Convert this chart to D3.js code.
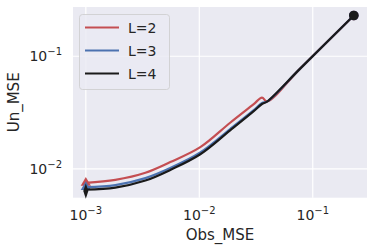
<!DOCTYPE html>
<html><head><meta charset="utf-8">
<script src="https://cdn.jsdelivr.net/npm/d3@7"></script>
<style>body{margin:0;background:#fff}svg{display:block}text{font-family:"DejaVu Sans",sans-serif;fill:#262626}</style>
</head><body><svg id="c" width="374" height="249"></svg>
<script>
const obs   = [0.001, 0.00182, 0.00335, 0.00555, 0.0102, 0.0187, 0.0300, 0.0357, 0.0395, 0.077, 0.23];
const unL2  = [0.00752, 0.00800, 0.00925, 0.0115, 0.0156, 0.0257, 0.0374, 0.0430, 0.0397, 0.0773, 0.23];
const unL3  = [0.0069, 0.0072, 0.0083, 0.0102, 0.0140, 0.0226, 0.0331, 0.0385, 0.0396, 0.0773, 0.23];
const unL4  = [0.00656, 0.00684, 0.00789, 0.0098, 0.0135, 0.0220, 0.0324, 0.0377, 0.0395, 0.0773, 0.23];
const labels = ["L=2", "L=3", "L=4"];
const colors = ["#c44e52", "#4c72b0", "#1a1a1a"];
const xTicks = [1e-3, 1e-2, 1e-1];
const yTicks = [1e-2, 1e-1];

const svg = d3.select("#c");
const L = 73, R = 367, T = 7, B = 197.7;
const x = d3.scaleLog().domain([Math.pow(10, -3.113), Math.pow(10, -0.522)]).range([L, R]);
const y = d3.scaleLog().domain([Math.pow(10, -2.255), Math.pow(10, -0.563)]).range([B, T]);

svg.append("rect").attr("x", L).attr("y", T).attr("width", R - L).attr("height", B - T).attr("fill", "#eaeaf2");
const g = svg.append("g");
xTicks.forEach(t => g.append("line").attr("x1", x(t)).attr("x2", x(t)).attr("y1", T).attr("y2", B).attr("stroke", "#fff").attr("stroke-width", 1.2));
yTicks.forEach(t => g.append("line").attr("y1", y(t)).attr("y2", y(t)).attr("x1", L).attr("x2", R).attr("stroke", "#fff").attr("stroke-width", 1.2));

function expLabel(sel, t) {
  const e = Math.round(Math.log10(t));
  sel.append("tspan").text("10");
  sel.append("tspan").attr("dy", -6).attr("font-size", 10).text("−" + Math.abs(e));
}
xTicks.forEach(t => {
  const tx = svg.append("text").attr("x", x(t)).attr("y", 220).attr("text-anchor", "middle").attr("font-size", 14);
  expLabel(tx, t);
});
yTicks.forEach(t => {
  const tx = svg.append("text").attr("x", 62).attr("y", y(t) + 5).attr("text-anchor", "end").attr("font-size", 14);
  expLabel(tx, t);
});
svg.append("text").attr("x", (L + R) / 2).attr("y", 240).attr("text-anchor", "middle").attr("font-size", 15).text("Obs_MSE");
svg.append("text").attr("transform", `translate(19,${(T + B) / 2}) rotate(-90)`).attr("text-anchor", "middle").attr("font-size", 15).text("Un_MSE");

const series = [unL2, unL3, unL4];
const line = d3.line().x(d => x(d[0])).y(d => y(d[1])).curve(d3.curveCatmullRom.alpha(0.5));
const pg = svg.append("g");
const startSym = [d3.symbolTriangle, d3.symbolTriangle, d3.symbolDiamond];
series.forEach((s, i) => {
  const pts = obs.map((o, j) => [o, s[j]]);
  pg.append("path").attr("d", line(pts)).attr("fill", "none").attr("stroke", colors[i]).attr("stroke-width", 2.2).attr("stroke-linejoin", "round");
  const p0 = pts[0], pn = pts[pts.length - 1];
  pg.append("path").attr("d", d3.symbol().type(startSym[i]).size(i === 2 ? 40 : 45)())
    .attr("transform", `translate(${x(p0[0])},${y(p0[1]) + (i === 2 ? 1.5 : 0)})` + (i === 2 ? " scale(0.75,1.3)" : "")).attr("fill", colors[i]);
  pg.append("circle").attr("cx", x(pn[0])).attr("cy", y(pn[1])).attr("r", 4.8).attr("fill", colors[i]);
});

const lg = svg.append("g");
lg.append("rect").attr("x", 79.5).attr("y", 14.5).attr("width", 90).attr("height", 75).attr("rx", 3)
  .attr("fill", "#eaeaf2").attr("fill-opacity", 0.8).attr("stroke", "#cccccc").attr("stroke-width", 0.8);
labels.forEach((lab, i) => {
  const yy = 27.5 + i * 23;
  lg.append("line").attr("x1", 85).attr("x2", 119).attr("y1", yy).attr("y2", yy).attr("stroke", colors[i]).attr("stroke-width", 2.2);
  lg.append("text").attr("x", 128).attr("y", yy + 5).attr("font-size", 14).text(lab);
});
</script></body></html>
